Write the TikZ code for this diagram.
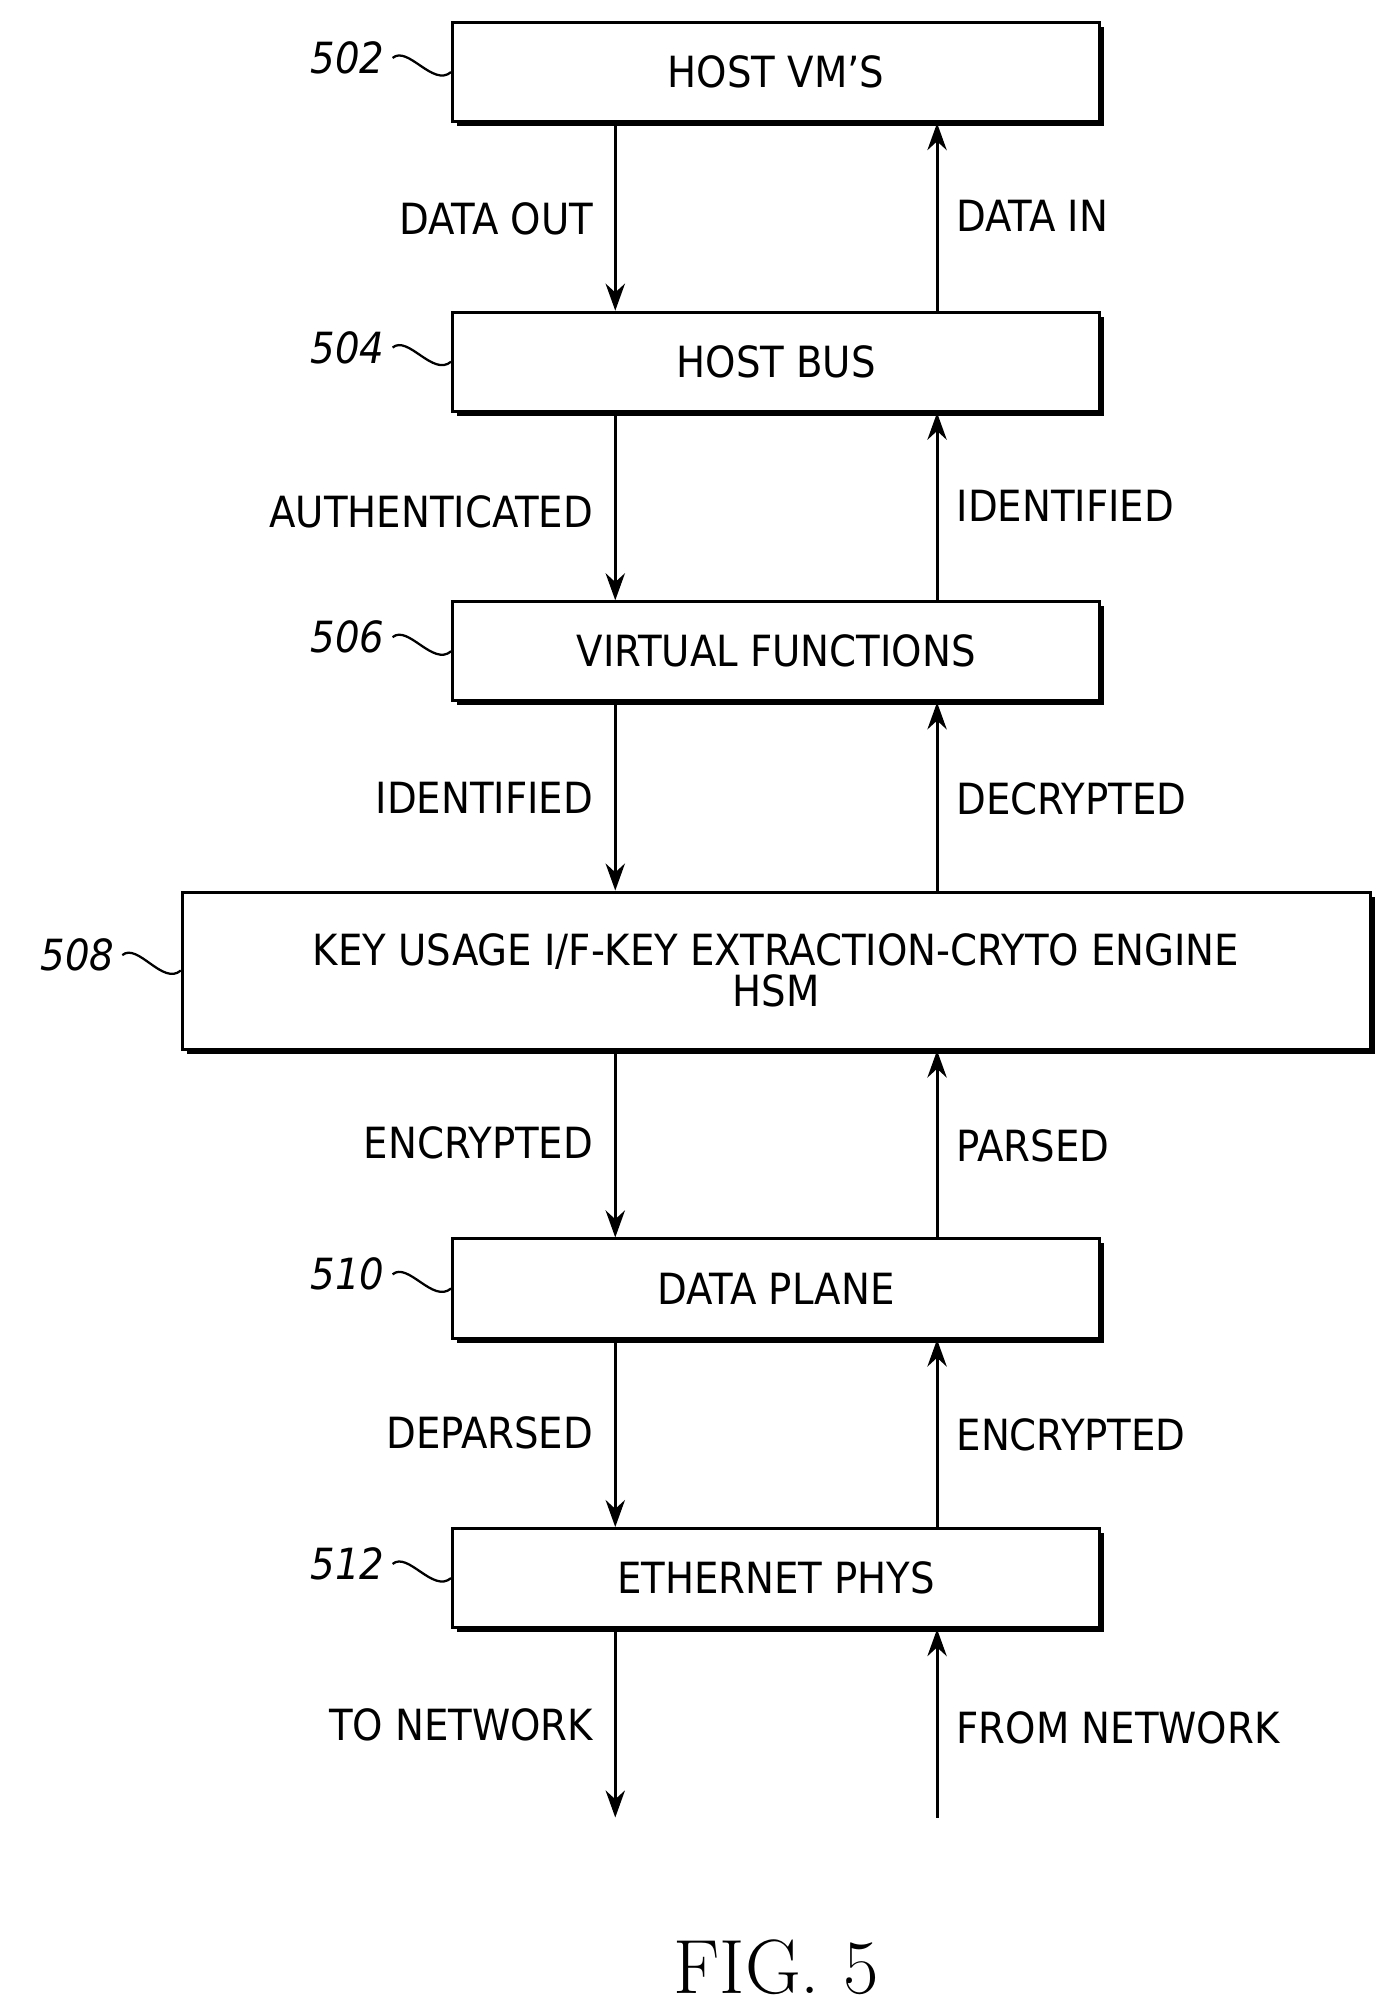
\documentclass[tikz,border=0pt]{standalone}
\usepackage{fontspec}
\setsansfont{DejaVu Sans Condensed}
\usetikzlibrary{positioning,arrows.meta,shadows}

\tikzset{
  blk/.style={draw, fill=white, line width=1.3pt, minimum height=1.54cm,
    minimum width=10.06cm, align=center, font=\sffamily\fontsize{19}{20}\selectfont,
    drop shadow={shadow xshift=0.07cm, shadow yshift=-0.07cm, fill=black, opacity=1}},
  lbl/.style={font=\sffamily\fontsize{19}{20}\selectfont},
  ref/.style={font=\sffamily\itshape\fontsize{19}{20}\selectfont},
  flow/.style={line width=1.3pt, -{Stealth[length=0.42cm,width=0.3cm]}},
  tld/.style={line width=1pt}
}

\begin{document}
\begin{tikzpicture}[x=0.02cm,y=-0.02cm]
\useasboundingbox (0,0) rectangle (1080,1560);

% blocks
\node[blk] (vm) at (603,56) {HOST VM'S};
\node[blk] (bus) at (603,281) {HOST BUS};
\node[blk] (vf) at (603,506) {VIRTUAL FUNCTIONS};
\node[blk, minimum width=18.46cm, minimum height=2.44cm] (hsm) at (603,754)
  {KEY USAGE I/F-KEY EXTRACTION-CRYTO ENGINE\\[-2pt] HSM};
\node[blk] (dp) at (603,1001) {DATA PLANE};
\node[blk] (eth) at (603,1226) {ETHERNET PHYS};

\coordinate (lx) at (478,0);
\coordinate (rx) at (728,0);
\coordinate (out) at (478,1412);
\coordinate (in) at (728,1412);

% reference numerals
\foreach \n/\b/\y in {502/vm/45, 504/bus/270, 506/vf/495, 510/dp/990, 512/eth/1215}{
  \node[ref, anchor=east] (r\n) at (305,\y) {\n};
  \draw[tld] (r\n.east) .. controls +(12,-10) and +(-14,12) .. (\b.west);
}
\node[ref, anchor=east] (r508) at (95,742) {508};
\draw[tld] (r508.east) .. controls +(12,-10) and +(-14,12) .. (hsm.west);

% down flow
\draw[flow] (vm.south -| lx) -- (bus.north -| lx);
\draw[flow] (bus.south -| lx) -- (vf.north -| lx);
\draw[flow] (vf.south -| lx) -- (hsm.north -| lx);
\draw[flow] (hsm.south -| lx) -- (dp.north -| lx);
\draw[flow] (dp.south -| lx) -- (eth.north -| lx);
\draw[flow] (eth.south -| lx) -- (out);

% up flow
\draw[flow] (bus.north -| rx) -- (vm.south -| rx);
\draw[flow] (vf.north -| rx) -- (bus.south -| rx);
\draw[flow] (hsm.north -| rx) -- (vf.south -| rx);
\draw[flow] (dp.north -| rx) -- (hsm.south -| rx);
\draw[flow] (eth.north -| rx) -- (dp.south -| rx);
\draw[flow] (in) -- (eth.south -| rx);

% flow labels
\node[lbl, anchor=east] (l1) at (467,170) {DATA OUT};
\node[lbl, anchor=east] (l2) at (467,398) {AUTHENTICATED};
\node[lbl, anchor=east] (l3) at (467,620) {IDENTIFIED};
\node[lbl, anchor=east] (l4) at (467,888) {ENCRYPTED};
\node[lbl, anchor=east] (l5) at (467,1113) {DEPARSED};
\node[lbl, anchor=east] (l6) at (467,1340) {TO NETWORK};
\node[lbl, anchor=west] (m1) at (737,168) {DATA IN};
\node[lbl, anchor=west] (m2) at (737,393) {IDENTIFIED};
\node[lbl, anchor=west] (m3) at (737,621) {DECRYPTED};
\node[lbl, anchor=west] (m4) at (737,890) {PARSED};
\node[lbl, anchor=west] (m5) at (737,1115) {ENCRYPTED};
\node[lbl, anchor=west] (m6) at (737,1342) {FROM NETWORK};

\node[font=\rmfamily\fontsize{34}{36}\selectfont] (fig) at (603,1528) {FIG. 5};
\end{tikzpicture}
\end{document}
